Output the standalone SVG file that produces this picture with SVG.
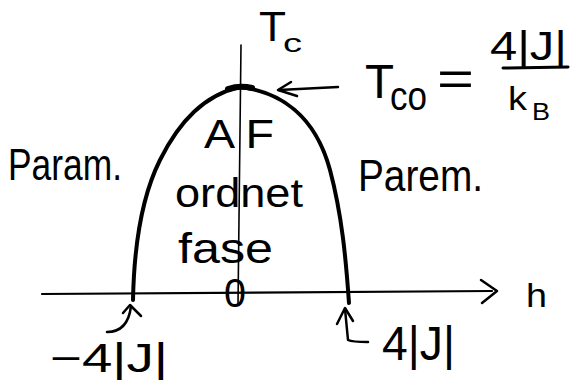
<svg xmlns="http://www.w3.org/2000/svg" width="581" height="382" viewBox="0 0 581 382">
<style>
  .ink{fill:none;stroke:#000;stroke-linecap:round;stroke-linejoin:round}
  .t{font-family:"Liberation Sans",Arial,sans-serif;fill:#000}
</style>
<rect width="581" height="382" fill="#fff"/>
<g id="connectors">
  <path class="ink" stroke-width="2.2" d="M42 294 L492 291"/>
  <path class="ink" stroke-width="2.5" d="M481 280 L497 291 L482 303"/>
  <path class="ink" stroke-width="1.6" d="M241 45 L238 305"/>
  <path class="ink" stroke-width="2.5" d="M338 87 L279 90"/>
  <path class="ink" stroke-width="2.5" d="M291 82 L278 90 L297 96"/>
  <path class="ink" stroke-width="2.5" d="M107 332 Q128 332 131 306"/>
  <path class="ink" stroke-width="2.5" d="M123 313 L130 305 L141 316"/>
  <path class="ink" stroke-width="2.5" d="M345 309 Q348 340 348 340 Q352 342 368 342"/>
  <path class="ink" stroke-width="2.5" d="M337 324 L345 308 L353 321"/>
</g>
<g id="curve">
  <path class="ink" stroke-width="4" d="M133 300 C134 250 140 200 160 160 C180 120 205 95 240 87 C280 92 315 115 330 170 C342 215 346 260 349 303"/>
  <path class="ink" stroke-width="6" d="M228 89 Q240 85 252 88"/>
</g>
<g id="label-Tc">
  <text class="t" x="259" y="41" font-size="42" textLength="27" lengthAdjust="spacingAndGlyphs">T</text>
  <text class="t" x="283" y="52" font-size="26" textLength="19" lengthAdjust="spacingAndGlyphs">c</text>
</g>
<g id="label-Tc0">
  <text class="t" x="365" y="98" font-size="48" textLength="29" lengthAdjust="spacingAndGlyphs">T</text>
  <text class="t" x="390" y="110" font-size="40" textLength="37" lengthAdjust="spacingAndGlyphs">co</text>
  <text class="t" x="437" y="95" font-size="48" textLength="37" lengthAdjust="spacingAndGlyphs">=</text>
  <text class="t" x="490" y="60" font-size="40" textLength="77" lengthAdjust="spacingAndGlyphs">4|J|</text>
  <path class="ink" stroke-width="3" d="M503 68 L568 67"/>
  <text class="t" x="508" y="110" font-size="34" textLength="19" lengthAdjust="spacingAndGlyphs">k</text>
  <text class="t" x="532" y="120" font-size="24" textLength="18" lengthAdjust="spacingAndGlyphs">B</text>
</g>
<g id="label-param-left">
  <text class="t" x="8" y="180" font-size="44" textLength="114" lengthAdjust="spacingAndGlyphs">Param.</text>
</g>
<g id="label-param-right">
  <text class="t" x="358" y="191" font-size="44" textLength="125" lengthAdjust="spacingAndGlyphs">Parem.</text>
</g>
<g id="label-af">
  <text class="t" x="204" y="148" font-size="40" textLength="70" lengthAdjust="spacingAndGlyphs">A F</text>
  <text class="t" x="175" y="207" font-size="40" textLength="128" lengthAdjust="spacingAndGlyphs">ordnet</text>
  <text class="t" x="178" y="263" font-size="42" textLength="95" lengthAdjust="spacingAndGlyphs">fase</text>
</g>
<g id="label-zero">
  <text class="t" x="224" y="307" font-size="40" textLength="22" lengthAdjust="spacingAndGlyphs">0</text>
</g>
<g id="label-h">
  <text class="t" x="526" y="307" font-size="34" textLength="21" lengthAdjust="spacingAndGlyphs">h</text>
</g>
<g id="label-minus4J">
  <text class="t" x="50" y="372" font-size="40" textLength="118" lengthAdjust="spacingAndGlyphs">−4|J|</text>
</g>
<g id="label-4J">
  <text class="t" x="382" y="360" font-size="48" textLength="73" lengthAdjust="spacingAndGlyphs">4|J|</text>
</g>
</svg>
